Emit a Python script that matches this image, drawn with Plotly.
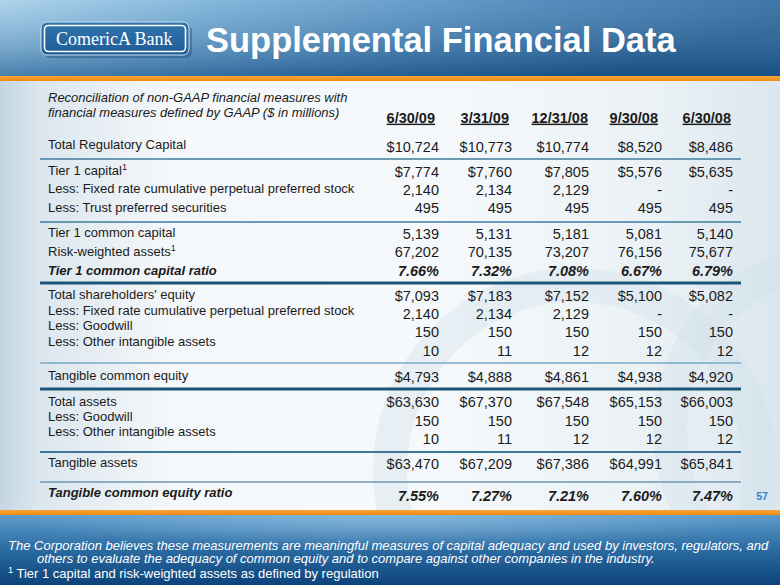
import base64
import plotly.graph_objects as go

# ---------------- data ----------------
dates = ["6/30/09", "3/31/09", "12/31/08", "9/30/08", "6/30/08"]

total_regulatory_capital = [10724, 10773, 10774, 8520, 8486]
tier1_capital = [7774, 7760, 7805, 5576, 5635]
preferred_stock_t1 = [2140, 2134, 2129, None, None]
trust_preferred = [495, 495, 495, 495, 495]
tier1_common_capital = [5139, 5131, 5181, 5081, 5140]
risk_weighted_assets = [67202, 70135, 73207, 76156, 75677]
tier1_common_ratio = [7.66, 7.32, 7.08, 6.67, 6.79]
shareholders_equity = [7093, 7183, 7152, 5100, 5082]
preferred_stock_eq = [2140, 2134, 2129, None, None]
goodwill_eq = [150, 150, 150, 150, 150]
other_intangibles_eq = [10, 11, 12, 12, 12]
tangible_common_equity = [4793, 4888, 4861, 4938, 4920]
total_assets = [63630, 67370, 67548, 65153, 66003]
goodwill_assets = [150, 150, 150, 150, 150]
other_intangibles_assets = [10, 11, 12, 12, 12]
tangible_assets = [63470, 67209, 67386, 64991, 65841]
tce_ratio = [7.55, 7.27, 7.21, 7.60, 7.47]

row_labels = [
    "Total Regulatory Capital",
    "Tier 1 capital<sup>1</sup>",
    "Less: Fixed rate cumulative perpetual preferred stock",
    "Less: Trust preferred securities",
    "Tier 1 common capital",
    "Risk-weighted assets<sup>1</sup>",
    "<b><i>Tier 1 common capital ratio</i></b>",
    "Total shareholders' equity",
    "Less: Fixed rate cumulative perpetual preferred stock",
    "Less: Goodwill",
    "Less: Other intangible assets",
    "Tangible common equity",
    "Total assets",
    "Less: Goodwill",
    "Less: Other intangible assets",
    "Tangible assets",
    "<b><i>Tangible common equity ratio</i></b>",
]

rows = [
    (total_regulatory_capital, "dollar"),
    (tier1_capital, "dollar"),
    (preferred_stock_t1, "num"),
    (trust_preferred, "num"),
    (tier1_common_capital, "num"),
    (risk_weighted_assets, "num"),
    (tier1_common_ratio, "pct"),
    (shareholders_equity, "dollar"),
    (preferred_stock_eq, "num"),
    (goodwill_eq, "num"),
    (other_intangibles_eq, "num"),
    (tangible_common_equity, "dollar"),
    (total_assets, "dollar"),
    (goodwill_assets, "num"),
    (other_intangibles_assets, "num"),
    (tangible_assets, "dollar"),
    (tce_ratio, "pct"),
]

heading_lines = ["Reconciliation of non-GAAP financial measures with",
                 "financial measures defined by GAAP ($ in millions)"]
title_text = "Supplemental Financial Data"
logo_text = "ComericA Bank"
footer_note = ("The Corporation believes these measurements are meaningful measures of capital adequacy "
               "and used by investors, regulators, and")
footer_note2 = "others to evaluate the adequacy of common equity and to compare against other companies in the industry."
footnote = "<sup>1</sup> Tier 1 capital and risk-weighted assets as defined by regulation"
page_number = "57"

# ---------------- layout constants ----------------
W, H = 780, 585
label_x = 48
col_right = [439, 512, 589, 662, 733]
head_right = [435, 509, 588, 658, 731]
head_y = 119
label_y = [146, 172, 190, 209, 234, 253, 272, 296, 312, 327, 343, 377, 403, 418, 433, 464, 494]
value_y = [148, 173, 191, 209, 235, 253, 272, 297, 315, 333, 352, 378, 403, 422, 440, 465, 497]
separators = [  # y, width, colour
    (159, 1.6, "#3f7c9e"),
    (222, 1.6, "#3f7c9e"),
    (283, 3.0, "#1b5676"),
    (363, 1.4, "#7ba9c4"),
    (389, 3.0, "#1b5676"),
    (452, 1.8, "#3d7697"),
    (482, 1.6, "#6b98b4"),
]

TXT = "#1b1b1b"
FONT = "Liberation Sans, Arial, sans-serif"


def fmt(v, kind):
    if v is None:
        return "-"
    if kind == "dollar":
        return f"${v:,.0f}"
    if kind == "pct":
        return f"<b><i>{v:.2f}%</i></b>"
    return f"{v:,.0f}"


# ---------------- background (gradients) ----------------
svg = f'''<svg xmlns="http://www.w3.org/2000/svg" width="{W}" height="{H}" viewBox="0 0 {W} {H}" preserveAspectRatio="none">
<defs>
 <linearGradient id="body" x1="0" y1="0" x2="1" y2="0">
  <stop offset="0" stop-color="#c3d5e2"/>
  <stop offset="0.05" stop-color="#dbe6ee"/>
  <stop offset="0.22" stop-color="#f5f8fa"/>
  <stop offset="0.55" stop-color="#f6f9fb"/>
  <stop offset="0.85" stop-color="#eaf1f5"/>
  <stop offset="1" stop-color="#dae6ee"/>
 </linearGradient>
 <linearGradient id="bodyv" x1="0" y1="0" x2="0" y2="1">
  <stop offset="0" stop-color="#dfe9f0" stop-opacity="0.7"/>
  <stop offset="0.15" stop-color="#ffffff" stop-opacity="0"/>
  <stop offset="0.85" stop-color="#ffffff" stop-opacity="0"/>
  <stop offset="1" stop-color="#dfe9f0" stop-opacity="0.6"/>
 </linearGradient>
 <linearGradient id="head" x1="0" y1="0" x2="1" y2="0.35">
  <stop offset="0" stop-color="#a3cde8"/>
  <stop offset="0.3" stop-color="#6aa6d2"/>
  <stop offset="0.65" stop-color="#3b7cb2"/>
  <stop offset="1" stop-color="#1b5a92"/>
 </linearGradient>
 <linearGradient id="headv" x1="0" y1="0" x2="0" y2="1">
  <stop offset="0" stop-color="#ffffff" stop-opacity="0.12"/>
  <stop offset="1" stop-color="#0b3866" stop-opacity="0.35"/>
 </linearGradient>
 <linearGradient id="foot" x1="0" y1="0" x2="0" y2="1">
  <stop offset="0" stop-color="#5d9bca"/>
  <stop offset="0.45" stop-color="#2e6fa6"/>
  <stop offset="1" stop-color="#0c437a"/>
 </linearGradient>
 <radialGradient id="foothi" cx="0.5" cy="0" r="0.5">
  <stop offset="0" stop-color="#a9d0ec" stop-opacity="0.55"/>
  <stop offset="1" stop-color="#a9d0ec" stop-opacity="0"/>
 </radialGradient>
 <linearGradient id="orange" x1="0" y1="0" x2="0" y2="1">
  <stop offset="0" stop-color="#f9a53a"/>
  <stop offset="1" stop-color="#f08a10"/>
 </linearGradient>
 <linearGradient id="logo" x1="0" y1="0" x2="0" y2="1">
  <stop offset="0" stop-color="#3476b0"/>
  <stop offset="1" stop-color="#1d5b94"/>
 </linearGradient>
 <clipPath id="bodyclip"><rect x="0" y="80" width="{W}" height="430"/></clipPath>
</defs>
<rect x="0" y="0" width="{W}" height="{H}" fill="url(#body)"/>
<rect x="0" y="0" width="{W}" height="{H}" fill="url(#bodyv)"/>
<g clip-path="url(#bodyclip)" fill="none" stroke="#d2e1eb" stroke-opacity="0.4">
 <circle cx="575" cy="470" r="185" stroke-width="34"/>
 <circle cx="840" cy="430" r="170" stroke-width="34"/>
</g>
<rect x="0" y="0" width="{W}" height="77" fill="url(#head)"/>
<rect x="0" y="0" width="{W}" height="77" fill="url(#headv)"/>
<rect x="0" y="76" width="{W}" height="5" fill="url(#orange)"/>
<rect x="0" y="515" width="{W}" height="70" fill="url(#foot)"/>
<rect x="0" y="515" width="{W}" height="70" fill="url(#foothi)"/>
<rect x="0" y="510" width="{W}" height="5" fill="url(#orange)"/>
<rect x="44" y="25" width="148" height="33" rx="6" fill="#0b3a66" opacity="0.35"/>
<rect x="41" y="22" width="148" height="33" rx="6" fill="url(#logo)" stroke="#cfe4f4" stroke-width="1"/>
<rect x="44.5" y="25.5" width="141" height="26" rx="4" fill="none" stroke="#ffffff" stroke-width="1.6"/>
</svg>'''
bg_uri = "data:image/svg+xml;base64," + base64.b64encode(svg.encode()).decode()

fig = go.Figure()

# row labels
fig.add_trace(go.Scatter(
    x=[label_x] * len(row_labels), y=label_y, mode="text",
    text=row_labels, textposition="middle right",
    textfont=dict(family=FONT, size=13, color=TXT),
    hoverinfo="skip", showlegend=False))

# heading
fig.add_trace(go.Scatter(
    x=[label_x] * 2, y=[99, 114], mode="text",
    text=[f"<i>{t}</i>" for t in heading_lines], textposition="middle right",
    textfont=dict(family=FONT, size=13, color=TXT),
    hoverinfo="skip", showlegend=False))

# column headers
fig.add_trace(go.Scatter(
    x=head_right, y=[head_y] * len(dates), mode="text",
    text=[f"<b><u>{d}</u></b>" for d in dates], textposition="middle left",
    textfont=dict(family=FONT, size=14.5, color=TXT),
    hoverinfo="skip", showlegend=False))

# values per column
for ci, d in enumerate(dates):
    texts = [fmt(vals[ci], kind) for vals, kind in rows]
    fig.add_trace(go.Scatter(
        x=[col_right[ci]] * len(rows), y=value_y, mode="text",
        text=texts, textposition="middle left", name=d,
        textfont=dict(family=FONT, size=14.5, color=TXT),
        hoverinfo="skip", showlegend=False))

# page number
fig.add_trace(go.Scatter(
    x=[762], y=[497], mode="text", text=[f"<b>{page_number}</b>"],
    textposition="middle center",
    textfont=dict(family=FONT, size=10.5, color="#2f86c6"),
    hoverinfo="skip", showlegend=False))

# separators
for y, w, c in separators:
    fig.add_shape(type="line", x0=40, x1=741, y0=y, y1=y, xref="x", yref="y",
                  line=dict(color=c, width=w), layer="above")

# title, logo text, footer
fig.add_annotation(x=204, y=40, xref="x", yref="y", text=f"<b>{title_text}</b>",
                   showarrow=False, xanchor="left", yanchor="middle",
                   font=dict(family=FONT, size=34.5, color="white"))
fig.add_annotation(x=114, y=39, xref="x", yref="y", text=logo_text,
                   showarrow=False, xanchor="center", yanchor="middle",
                   font=dict(family="Liberation Serif, DejaVu Serif, serif", size=18, color="white"))
FOOT = "Liberation Sans, Arial, sans-serif"
fig.add_annotation(x=7, y=545, xref="x", yref="y", text=f"<i>{footer_note}</i>",
                   showarrow=False, xanchor="left", yanchor="middle", borderpad=0,
                   font=dict(family=FOOT, size=13, color="white"))
fig.add_annotation(x=36, y=558, xref="x", yref="y", text=f"<i>{footer_note2}</i>",
                   showarrow=False, xanchor="left", yanchor="middle", borderpad=0,
                   font=dict(family=FOOT, size=13, color="white"))
fig.add_annotation(x=7, y=573, xref="x", yref="y", text=footnote,
                   showarrow=False, xanchor="left", yanchor="middle", borderpad=0,
                   font=dict(family=FOOT, size=13, color="white"))

fig.update_layout(
    width=W, height=H, margin=dict(l=0, r=0, t=0, b=0),
    paper_bgcolor="#eef3f7", plot_bgcolor="rgba(0,0,0,0)",
    xaxis=dict(range=[0, W], visible=False, fixedrange=True),
    yaxis=dict(range=[H, 0], visible=False, fixedrange=True),
    images=[dict(source=bg_uri, xref="paper", yref="paper", x=0, y=1,
                 sizex=1, sizey=1, sizing="stretch", xanchor="left",
                 yanchor="top", layer="below")],
)

fig.write_html("out.html", config={"displayModeBar": False, "staticPlot": True},
               post_script="document.body.style.margin='0';document.body.style.overflow='hidden';")
